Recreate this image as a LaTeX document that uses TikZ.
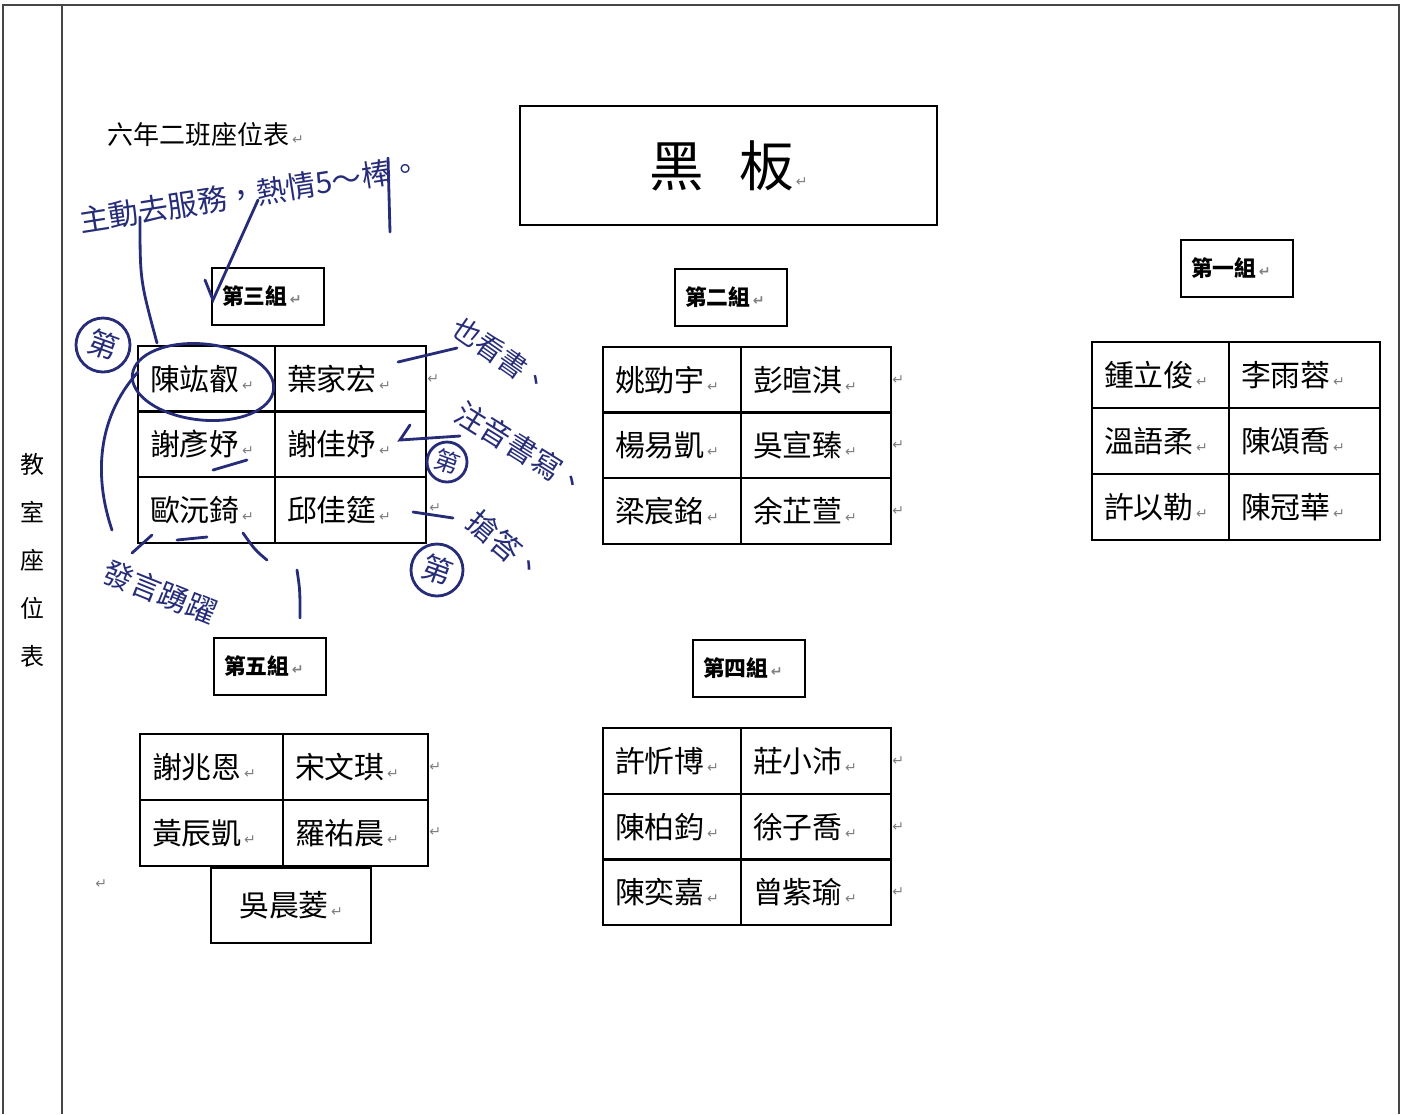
\documentclass[tikz,border=0pt]{standalone}
\usepackage{fontspec}
\setmainfont{Noto Sans CJK TC}
\newfontfamily\symfont{DejaVu Sans}
\usetikzlibrary{calc}

\definecolor{ink}{RGB}{38,44,120}
\definecolor{frame}{RGB}{70,70,70}
\newcommand{\ret}{{\symfont\fontsize{4}{4}\selectfont\color{gray}\,↵}}

\tikzset{
	seat/.style={draw, line width=0.6pt, anchor=north west, align=left, inner xsep=0.12cm, inner ysep=0pt, minimum height=0.66cm, font=\fontsize{8.5}{10}\selectfont},
	grouplabel/.style={draw, line width=0.6pt, anchor=north west, align=left, inner xsep=0.1cm, inner ysep=0pt, minimum height=0.57cm, text width=0.92cm, font=\fontsize{6.2}{7}\selectfont\bfseries},
	retmark/.style={inner sep=0pt},
	pen/.style={ink, line width=0.8pt, line cap=round},
	note/.style={ink, font=\fontsize{8.5}{10}\selectfont, inner sep=0pt},
}

\begin{document}
\begin{tikzpicture}[x=0.01cm, y=-0.01cm]
		\useasboundingbox (0,0) rectangle (1401,1114);
		
		% page frame
		\begin{scope}[frame, line width=0.7pt]
			\draw (3,1114) -- (3,5) -- (1399,5) -- (1399,1114);
			\draw (62,5) -- (62,1114);
		\end{scope}
		
		\node[font=\fontsize{6.8}{13.66}\selectfont, align=center, inner sep=0pt] (side) at (32,560) {教\\室\\座\\位\\表};
		\node[anchor=west, font=\fontsize{7.4}{8}\selectfont, inner sep=0pt] (title) at (107,135) {六年二班座位表\ret};
		\node[draw, line width=0.6pt, anchor=north west, minimum width=4.17cm, minimum height=1.19cm, font=\fontsize{15.5}{16}\selectfont] (board) at (519,105) {黑\hspace{0.35cm}板\ret};
		
		% group labels
		\node[grouplabel] (label 3) at (211,267) {第三組\ret};
		\node[grouplabel] (label 2) at (674,268) {第二組\ret};
		\node[grouplabel] (label 1) at (1180,239) {第一組\ret};
		\node[grouplabel] (label 5) at (213,637) {第五組\ret};
		\node[grouplabel] (label 4) at (692,639) {第四組\ret};
		
		% group 3
		\foreach \id/\x/\y/\w/\who in {a/137/345/1.13/陳竑叡, b/274/345/1.27/葉家宏,
				c/137/410/1.13/謝彥妤, d/274/410/1.27/謝佳妤,
				e/137/476/1.13/歐沅錡, f/274/476/1.27/邱佳筵}
			\node[seat, text width=\w cm] (g3\id) at (\x,\y) {\who\ret};
		% group 2
		\foreach \id/\x/\y/\w/\who in {a/602/346/1.14/姚勁宇, b/740/346/1.26/彭暄淇,
				c/602/411/1.14/楊易凱, d/740/411/1.26/吳宣臻,
				e/602/477/1.14/梁宸銘, f/740/477/1.26/余芷萱}
			\node[seat, text width=\w cm] (g2\id) at (\x,\y) {\who\ret};
		% group 1
		\foreach \id/\x/\y/\w/\who in {a/1091/341/1.13/鍾立俊, b/1228/341/1.27/李雨蓉,
				c/1091/407/1.13/溫語柔, d/1228/407/1.27/陳頌喬,
				e/1091/473/1.13/許以勒, f/1228/473/1.27/陳冠華}
			\node[seat, text width=\w cm] (g1\id) at (\x,\y) {\who\ret};
		% group 4
		\foreach \id/\x/\y/\w/\who in {a/602/727/1.14/許忻博, b/740/727/1.26/莊小沛,
				c/602/793/1.14/陳柏鈞, d/740/793/1.26/徐子喬,
				e/602/858/1.14/陳奕嘉, f/740/858/1.26/曾紫瑜}
			\node[seat, text width=\w cm] (g4\id) at (\x,\y) {\who\ret};
		% group 5
		\foreach \id/\x/\y/\w/\who in {a/139/733/1.19/謝兆恩, b/282/733/1.21/宋文琪,
				c/139/799/1.19/黃辰凱, d/282/799/1.21/羅祐晨}
			\node[seat, text width=\w cm] (g5\id) at (\x,\y) {\who\ret};
		\node[seat, minimum width=1.6cm, minimum height=0.75cm] (g5e) at (210,867) {吳晨菱\ret};
		
		% paragraph marks beside the tables
		\node[retmark] (g3 end 1) at (432,379) {\ret};
		\node[retmark] (g3 end 3) at (434,508) {\ret};
		\foreach \y [count=\k] in {380,445,511}
			\node[retmark] (g2 end \k) at (897,\y) {\ret};
		\foreach \y [count=\k] in {761,827,892}
			\node[retmark] (g4 end \k) at (897,\y) {\ret};
		\foreach \y [count=\k] in {767,832}
			\node[retmark] (g5 end \k) at (434,\y) {\ret};
		\node[retmark] (stray) at (100,884) {\ret};
		
		% teacher's notes in ink
		\node[note, rotate=9] (note top) at (250,194) {主動去服務，熱情5～棒。};
		\node[note, font=\fontsize{8}{9}\selectfont, rotate=-35] (note b) at (502,356) {也看書、};
		\node[note, rotate=-32] (note d) at (522,449) {注音書寫、};
		\node[note, rotate=-40] (note f) at (506,546) {搶答、};
		\node[note, rotate=-22] (note e) at (160,592) {發言踴躍};
		
		\begin{scope}[pen]
			\draw (103,345) circle [radius=27] node[note, rotate=-20] (mark a) {第};
			\draw (447,462) circle [radius=20] node[note, font=\fontsize{7}{8}\selectfont, rotate=-20] (mark d) {第};
			\draw (437,570) circle [radius=26] node[note, rotate=-20] (mark f) {第};
			\draw[rotate around={-6:(203,382)}] (203,382) ellipse [x radius=71, y radius=38];
			
			\draw (140,217) .. controls (140,280) .. (157,343);
			\draw (205,280) -- (213,300) -- (258,200);
			\draw (388,158) -- (390,232);
			\draw (138,372) .. controls (95,420) and (95,480) .. (112,530);
			\draw (398,362) -- (457,348);
			\draw (410,425) -- (400,440) -- (460,436);
			\draw (413,512) -- (453,518);
			\draw (213,470) -- (247,460);
			\draw (132,553) -- (152,535);
			\draw (177,540) -- (207,537);
			\draw (243,533) .. controls (255,550) .. (267,560);
			\draw (297,570) .. controls (300,590) .. (300,618);
		\end{scope}
	\end{tikzpicture}
\end{document}
